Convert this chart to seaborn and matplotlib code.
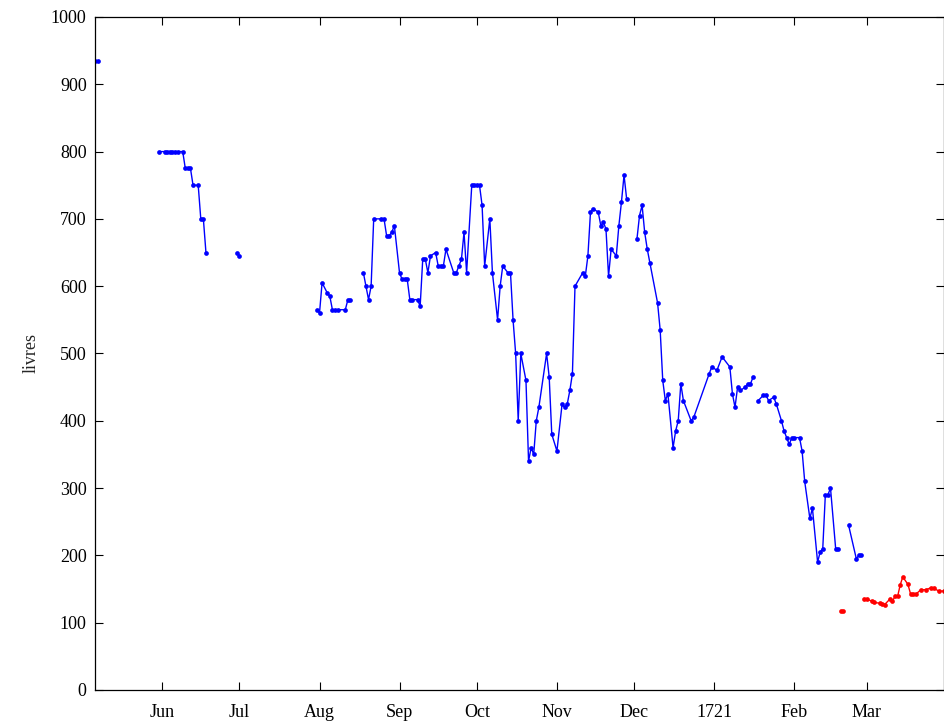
import pandas as pd
import matplotlib
matplotlib.use("Agg")
import matplotlib.pyplot as plt
import matplotlib.dates as mdates
from matplotlib.ticker import FuncFormatter
import seaborn as sns

# share price in livres, 1720-21. None = break in the line
blue_dates = [
    "1720-05-06", "1720-05-07", None,
    "1720-05-31", "1720-06-02", "1720-06-03", "1720-06-04", "1720-06-05", "1720-06-06",
    "1720-06-07", "1720-06-09", "1720-06-10", "1720-06-11", "1720-06-12", "1720-06-13",
    "1720-06-15", "1720-06-16", "1720-06-17", "1720-06-18", None,
    "1720-06-30", "1720-07-01", None,
    "1720-07-31", "1720-08-01", "1720-08-02", "1720-08-04", "1720-08-05", "1720-08-06",
    "1720-08-07", "1720-08-08", "1720-08-11", "1720-08-12", "1720-08-13", None,
    "1720-08-18", "1720-08-19", "1720-08-20", "1720-08-21", "1720-08-22", "1720-08-25",
    "1720-08-26", "1720-08-27", "1720-08-28", "1720-08-29", "1720-08-30", "1720-09-01",
    "1720-09-02", "1720-09-03", "1720-09-04", "1720-09-05", "1720-09-06", "1720-09-08",
    "1720-09-09", "1720-09-10", "1720-09-11", "1720-09-12", "1720-09-13", "1720-09-15",
    "1720-09-16", "1720-09-17", "1720-09-18", "1720-09-19", "1720-09-22", "1720-09-23",
    "1720-09-24", "1720-09-25", "1720-09-26", "1720-09-27", "1720-09-29", "1720-09-30",
    "1720-10-01", "1720-10-02", "1720-10-03", "1720-10-04", "1720-10-06", "1720-10-07",
    "1720-10-09", "1720-10-10", "1720-10-11", "1720-10-13", "1720-10-14", "1720-10-15",
    "1720-10-16", "1720-10-17", "1720-10-18", "1720-10-20", "1720-10-21", "1720-10-22",
    "1720-10-23", "1720-10-24", "1720-10-25", "1720-10-28", "1720-10-29", "1720-10-30",
    "1720-11-01", "1720-11-03", "1720-11-04", "1720-11-05", "1720-11-06", "1720-11-07",
    "1720-11-08", "1720-11-11", "1720-11-12", "1720-11-13", "1720-11-14", "1720-11-15",
    "1720-11-17", "1720-11-18", "1720-11-19", "1720-11-20", "1720-11-21", "1720-11-22",
    "1720-11-24", "1720-11-25", "1720-11-26", "1720-11-27", "1720-11-28", None,
    "1720-12-02", "1720-12-03", "1720-12-04", "1720-12-05", "1720-12-06", "1720-12-07",
    "1720-12-10", "1720-12-11", "1720-12-12", "1720-12-13", "1720-12-14", "1720-12-16",
    "1720-12-17", "1720-12-18", "1720-12-19", "1720-12-20", "1720-12-23", "1720-12-24",
    "1720-12-30", "1720-12-31", "1721-01-02", "1721-01-04", "1721-01-07", "1721-01-08",
    "1721-01-09", "1721-01-10", "1721-01-11", "1721-01-13", "1721-01-14", "1721-01-15",
    "1721-01-16", None,
    "1721-01-18", "1721-01-20", "1721-01-21", "1721-01-22", "1721-01-24", "1721-01-25",
    "1721-01-27", "1721-01-28", "1721-01-29", "1721-01-30", "1721-01-31", "1721-02-01",
    "1721-02-03", "1721-02-04", "1721-02-05", "1721-02-07", "1721-02-08", "1721-02-10",
    "1721-02-11", "1721-02-12", "1721-02-13", "1721-02-14", "1721-02-15", "1721-02-17",
    "1721-02-18", None,
    "1721-02-22", "1721-02-25", "1721-02-26", "1721-02-27",
]
blue_livres = [
    935, 935, None,
    800, 800, 800, 800, 800, 800,
    800, 800, 775, 775, 775, 750,
    750, 700, 700, 650, None,
    650, 645, None,
    565, 560, 605, 590, 585, 565,
    565, 565, 565, 580, 580, None,
    620, 600, 580, 600, 700, 700,
    700, 675, 675, 680, 690, 620,
    610, 610, 610, 580, 580, 580,
    570, 640, 640, 620, 645, 650,
    630, 630, 630, 655, 620, 620,
    630, 640, 680, 620, 750, 750,
    750, 750, 720, 630, 700, 620,
    550, 600, 630, 620, 620, 550,
    500, 400, 500, 460, 340, 360,
    350, 400, 420, 500, 465, 380,
    355, 425, 420, 425, 445, 470,
    600, 620, 615, 645, 710, 715,
    710, 690, 695, 685, 615, 655,
    645, 690, 725, 765, 730, None,
    670, 705, 720, 680, 655, 635,
    575, 535, 460, 430, 440, 360,
    385, 400, 455, 430, 400, 405,
    470, 480, 475, 495, 480, 440,
    420, 450, 445, 450, 455, 455,
    465, None,
    430, 438, 438, 430, 435, 425,
    400, 385, 375, 365, 375, 375,
    375, 355, 310, 255, 270, 190,
    205, 210, 290, 290, 300, 210,
    210, None,
    245, 195, 200, 200,
]

red_dates = [
    "1721-02-19", "1721-02-20", None,
    "1721-02-28", "1721-03-01", "1721-03-03", "1721-03-04", "1721-03-06", "1721-03-07",
    "1721-03-08", "1721-03-10", "1721-03-11", "1721-03-12", "1721-03-13", "1721-03-14",
    "1721-03-15", "1721-03-17", "1721-03-18", "1721-03-19", "1721-03-20", "1721-03-22",
    "1721-03-24", "1721-03-26", "1721-03-27", "1721-03-29", "1721-03-31",
]
red_livres = [
    118, 118, None,
    135, 135, 132, 130, 129, 128,
    127, 135, 132, 139, 139, 156,
    168, 157, 143, 143, 142, 149,
    149, 152, 151, 147, 147,
]


def to_frame(dates, values, name):
    rows = []
    seg = 0
    for d, v in zip(dates, values):
        if d is None:
            seg += 1
            continue
        rows.append((pd.Timestamp(d), v, f"{name}{seg}", name))
    return pd.DataFrame(rows, columns=["date", "livres", "segment", "series"])


df = pd.concat([to_frame(blue_dates, blue_livres, "blue"),
                to_frame(red_dates, red_livres, "red")], ignore_index=True)

sns.set_style("ticks")
plt.rcParams["font.family"] = ["Liberation Serif", "DejaVu Serif"]

fig = plt.figure(figsize=(9.45, 7.25), dpi=100)
ax = fig.add_axes([0.1005, 0.0483, 0.8985, 0.9283])

sns.lineplot(data=df, x="date", y="livres", hue="series", units="segment",
             estimator=None, palette={"blue": "#0000ff", "red": "#ff0000"},
             marker="o", markersize=3.4, markeredgewidth=0, linewidth=1,
             legend=False, ax=ax)

ax.set_xlim(pd.Timestamp("1720-05-06"), pd.Timestamp("1721-03-31"))
ax.set_ylim(0, 1000)
ax.set_yticks(range(0, 1001, 100))
ax.xaxis.set_major_locator(mdates.MonthLocator())


def month_label(x, pos):
    d = mdates.num2date(x)
    return d.strftime("%Y") if d.month == 1 else d.strftime("%b")


ax.xaxis.set_major_formatter(FuncFormatter(month_label))
ax.tick_params(direction="in", top=True, right=True, length=6, width=0.8,
               labelsize=13, colors="black")
ax.tick_params(axis="x", pad=10)
ax.tick_params(axis="y", pad=6)
for s in ax.spines.values():
    s.set_visible(True)
    s.set_linewidth(0.9)
    s.set_color("black")

ax.set_xlabel("")
ax.set_ylabel("livres", fontsize=13, labelpad=8)

fig.savefig("out.png", dpi=100)
